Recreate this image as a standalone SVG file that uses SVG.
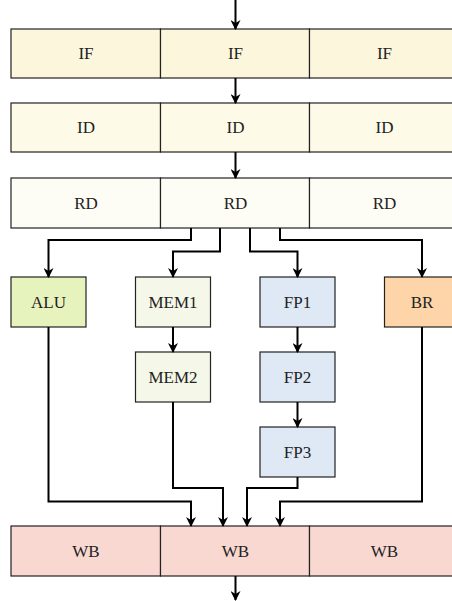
<svg xmlns="http://www.w3.org/2000/svg" width="452" height="601" viewBox="0 0 452 601">
<style>
.b{stroke:#222;stroke-width:1.2}
.t{font-family:"Liberation Serif","DejaVu Serif",serif;font-size:17px;fill:#222;text-anchor:middle;dominant-baseline:central}
.c{fill:none;stroke:#000;stroke-width:2;marker-end:url(#ah)}
</style>
<defs>
<marker id="ah" viewBox="0 0 10 10" refX="9" refY="5" markerWidth="5" markerHeight="5" orient="auto" markerUnits="strokeWidth">
<path d="M0,0 L10,5 L0,10 L3,5 Z" fill="#000"/>
</marker>
</defs>
<g id="IF">
<rect class="b" x="11" y="29" width="149.5" height="49" fill="#fcf7dc"/>
<rect class="b" x="160.5" y="29" width="149" height="49" fill="#fcf7dc"/>
<rect class="b" x="309.5" y="29" width="149" height="49" fill="#fcf7dc"/>
<text class="t" x="86" y="53.5">IF</text><text class="t" x="235.5" y="53.5">IF</text><text class="t" x="384.5" y="53.5">IF</text>
</g>
<g id="ID">
<rect class="b" x="11" y="103" width="149.5" height="49" fill="#fdfae8"/>
<rect class="b" x="160.5" y="103" width="149" height="49" fill="#fdfae8"/>
<rect class="b" x="309.5" y="103" width="149" height="49" fill="#fdfae8"/>
<text class="t" x="86" y="127.5">ID</text><text class="t" x="235.5" y="127.5">ID</text><text class="t" x="384.5" y="127.5">ID</text>
</g>
<g id="RD">
<rect class="b" x="11" y="178" width="149.5" height="50" fill="#fdfdf5"/>
<rect class="b" x="160.5" y="178" width="149" height="50" fill="#fdfdf5"/>
<rect class="b" x="309.5" y="178" width="149" height="50" fill="#fdfdf5"/>
<text class="t" x="86" y="203">RD</text><text class="t" x="235.5" y="203">RD</text><text class="t" x="384.5" y="203">RD</text>
</g>
<g id="ALU"><rect class="b" x="11" y="277" width="75" height="50" fill="#e7f3bd"/><text class="t" x="48.5" y="302">ALU</text></g>
<g id="MEM1"><rect class="b" x="135.5" y="277" width="75" height="50" fill="#f5f8e8"/><text class="t" x="173" y="302">MEM1</text></g>
<g id="MEM2"><rect class="b" x="135.5" y="352" width="75" height="50" fill="#f5f8e8"/><text class="t" x="173" y="377">MEM2</text></g>
<g id="FP1"><rect class="b" x="260" y="277" width="75" height="50" fill="#dfe9f5"/><text class="t" x="297.5" y="302">FP1</text></g>
<g id="FP2"><rect class="b" x="260" y="352" width="75" height="50" fill="#dfe9f5"/><text class="t" x="297.5" y="377">FP2</text></g>
<g id="FP3"><rect class="b" x="260" y="427" width="75" height="50" fill="#dfe9f5"/><text class="t" x="297.5" y="452">FP3</text></g>
<g id="BR"><rect class="b" x="384.5" y="277" width="75" height="50" fill="#fed5a8"/><text class="t" x="422" y="302">BR</text></g>
<g id="WB">
<rect class="b" x="11" y="526" width="149.5" height="50" fill="#f9d8d2"/>
<rect class="b" x="160.5" y="526" width="149" height="50" fill="#f9d8d2"/>
<rect class="b" x="309.5" y="526" width="149" height="50" fill="#f9d8d2"/>
<text class="t" x="86" y="551">WB</text><text class="t" x="235.5" y="551">WB</text><text class="t" x="384.5" y="551">WB</text>
</g>
<g id="connectors">
<path class="c" d="M235.5,0 V29"/>
<path class="c" d="M235.5,78 V103"/>
<path class="c" d="M235.5,152 V178"/>
<path class="c" d="M191,228 V240 H48.5 V277"/>
<path class="c" d="M220,228 V251.5 H173 V277"/>
<path class="c" d="M250,228 V251.5 H297.5 V277"/>
<path class="c" d="M280,228 V240 H422 V277"/>
<path class="c" d="M173,327 V352"/>
<path class="c" d="M297.5,327 V352"/>
<path class="c" d="M297.5,402 V427"/>
<path class="c" d="M48.5,327 V501.5 H191 V526"/>
<path class="c" d="M173,402 V488 H223 V526"/>
<path class="c" d="M297.5,477 V488 H247 V526"/>
<path class="c" d="M422,327 V501.5 H280 V526"/>
<path class="c" d="M235.5,576 V600"/>
</g>
</svg>
